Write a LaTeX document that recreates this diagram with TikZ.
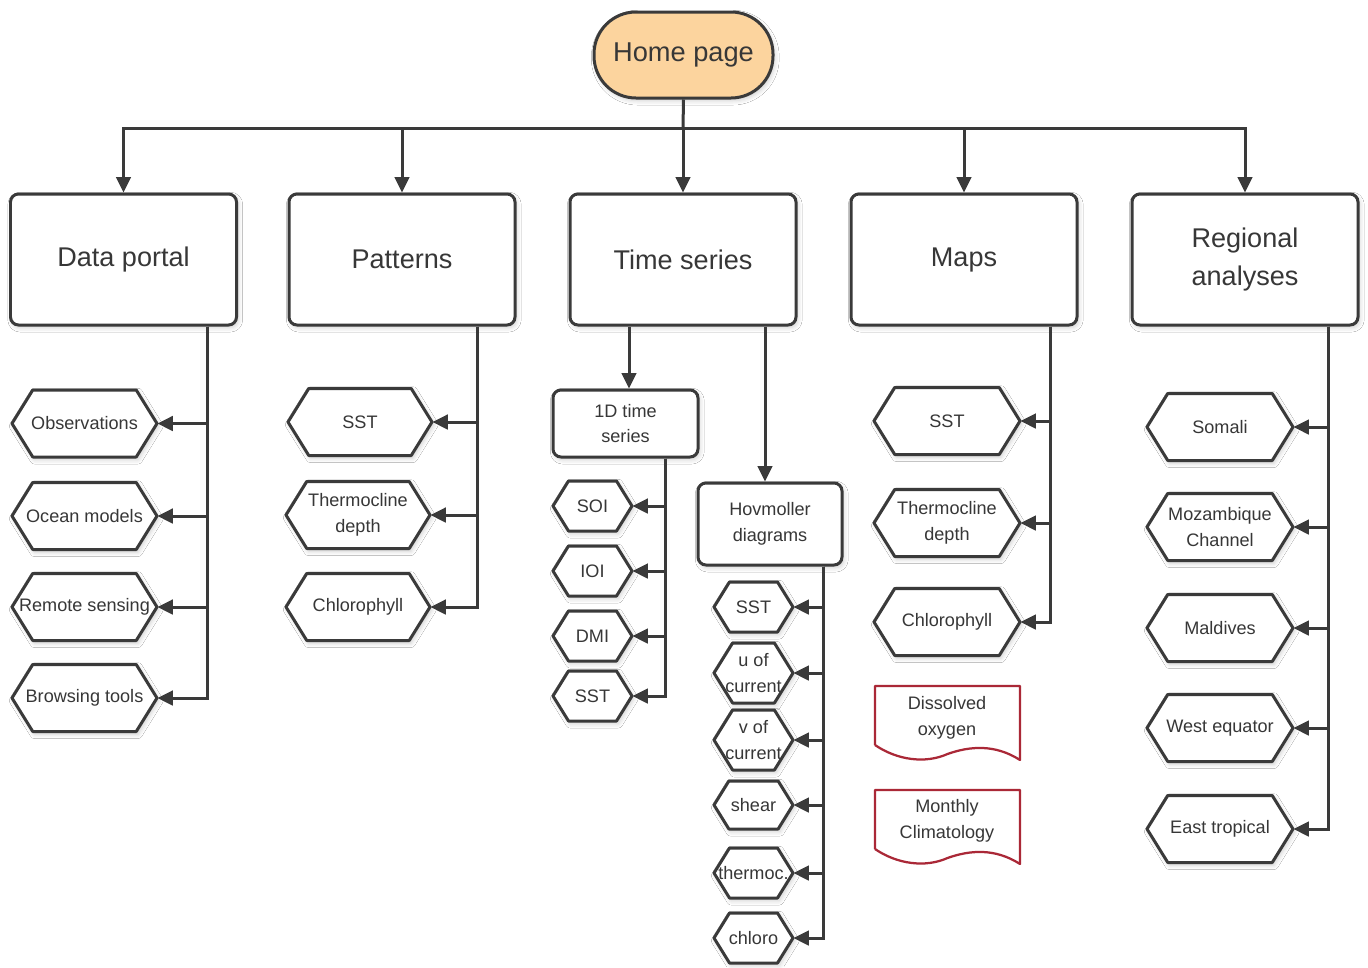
\documentclass[tikz,border=0pt]{standalone}
\usepackage{fontspec}
\setmainfont{Liberation Sans}
\usetikzlibrary{arrows.meta,shadows.blur}
\definecolor{ln}{RGB}{58,58,58}
\definecolor{tx}{RGB}{55,55,55}
\definecolor{peach}{RGB}{252,212,158}
\definecolor{docred}{RGB}{170,40,55}
\def\pxl{0.02cm}
\tikzset{
  shd/.style={blur shadow={shadow xshift=1pt, shadow yshift=-1.5pt, shadow blur radius=2.5pt, shadow opacity=20}},
  conn/.style={draw=ln, line width=0.06cm},
  arr/.style={conn, -{Triangle[length=0.31cm,width=0.29cm]}},
  homebox/.style={draw=ln, line width=0.06cm, fill=peach, rounded corners=0.84cm, minimum width=179*\pxl, minimum height=86*\pxl, font=\fontsize{15.5}{20}\selectfont, text=tx, shd},
  bigbox/.style={draw=ln, line width=0.06cm, fill=white, rounded corners=0.16cm, minimum width=226*\pxl, minimum height=131*\pxl, align=center, font=\fontsize{15.4}{21.5}\selectfont, text=tx, shd},
  subbox/.style={draw=ln, line width=0.06cm, fill=white, rounded corners=0.16cm, align=center, font=\fontsize{10.3}{14.7}\selectfont, text=tx, shd},
  hexnode/.style={inner sep=0pt, align=center, font=\fontsize{10.3}{14.7}\selectfont, text=tx},
  hexline/.style={draw=ln, line width=0.06cm, line join=round, fill=white, shd},
  docline/.style={draw=docred, line width=0.045cm, fill=white, line join=round},
}
% name, cx, cy, w, h, text
\newcommand\hexa[6]{%
  \draw[hexline] ({#2-#4/2},#3) -- ({#2-#4/2+0.31*#5},{#3-#5/2}) -- ({#2+#4/2-0.31*#5},{#3-#5/2}) -- ({#2+#4/2},#3) -- ({#2+#4/2-0.31*#5},{#3+#5/2}) -- ({#2-#4/2+0.31*#5},{#3+#5/2}) -- cycle;
  \node[hexnode, minimum width=#4*\pxl, minimum height=#5*\pxl] (#1) at (#2,#3) {#6};}
% x1, x2, top
\newcommand\docshape[3]{%
  \draw[docline] (#1,{#3+59}) -- (#1,#3) -- (#2,#3) -- (#2,{#3+74})
    .. controls ({#2-25},{#3+58}) and ({#2-50},{#3+60}) .. ({(#1+#2)/2},{#3+68})
    .. controls ({#1+50},{#3+78}) and ({#1+22},{#3+74}) .. (#1,{#3+59});}
\begin{document}
\begin{tikzpicture}[x=0.02cm,y=-0.02cm]
\useasboundingbox (0,0) rectangle (1368,967);
\fill[white] (0,0) rectangle (1368,967);

% top level
\node[homebox] (home) at (683.5,55) {Home page};
\node[bigbox] (dp) at (123.5,259.5) {Data portal};
\node[bigbox] (pat) at (402,259.5) {Patterns};
\node[bigbox] (ts) at (683,259.5) {Time series};
\node[bigbox] (maps) at (964,259.5) {Maps};
\node[bigbox] (reg) at (1245,259.5) {Regional\\analyses};

\coordinate (bus) at (683,128);
\draw[conn] (home.south) -- (bus);
\foreach \n in {dp,pat,ts,maps,reg} \draw[arr] (bus) -| (\n.north);

% Data portal
\hexa{obs}{84.5}{423.5}{145}{67}{Observations}
\hexa{ocm}{84.5}{516}{145}{67}{Ocean models}
\hexa{rs}{84.5}{607}{145}{67}{Remote sensing}
\hexa{bt}{84.5}{698}{145}{67}{Browsing tools}
\coordinate (dpx) at (207,0);
\foreach \n in {obs,ocm,rs,bt} \draw[arr] (dp.south -| dpx) |- (\n.east);

% Patterns
\hexa{psst}{360}{422}{144}{67}{SST}
\hexa{pthd}{358}{515}{144}{67}{Thermocline\\depth}
\hexa{pchl}{358}{607}{144}{67}{Chlorophyll}
\coordinate (patx) at (477,0);
\foreach \n in {psst,pthd,pchl} \draw[arr] (pat.south -| patx) |- (\n.east);

% Time series
\node[subbox, minimum width=145*\pxl, minimum height=67*\pxl] (ts1) at (625.5,423.5) {1D time\\series};
\node[subbox, minimum width=144*\pxl, minimum height=82*\pxl] (hov) at (770,524) {Hovmoller\\diagrams};
\coordinate (tsa) at (629,0);
\coordinate (tsb) at (765,0);
\draw[arr] (ts.south -| tsa) -- (ts1.north -| tsa);
\draw[arr] (ts.south -| tsb) -- (hov.north -| tsb);

\hexa{soi}{592.5}{506}{79}{50}{SOI}
\hexa{ioi}{592.5}{571}{79}{50}{IOI}
\hexa{dmi}{592.5}{636}{79}{50}{DMI}
\hexa{tsst}{592.5}{696}{79}{50}{SST}
\coordinate (ts1x) at (665,0);
\foreach \n in {soi,ioi,dmi,tsst} \draw[arr] (ts1.south -| ts1x) |- (\n.east);

\hexa{hsst}{753.5}{607}{79}{50}{SST}
\hexa{hu}{753.5}{673}{79}{60}{u of\\current}
\hexa{hv}{753.5}{740}{79}{60}{v of\\current}
\hexa{hsh}{753.5}{805}{79}{48}{shear}
\hexa{hth}{753.5}{873}{79}{50}{thermoc.}
\hexa{hch}{753.5}{938}{79}{50}{chloro}
\coordinate (hovx) at (823,0);
\foreach \n in {hsst,hu,hv,hsh,hth,hch} \draw[arr] (hov.south -| hovx) |- (\n.east);

% Maps
\hexa{msst}{947}{421}{146}{67}{SST}
\hexa{mthd}{947}{523}{146}{67}{Thermocline\\depth}
\hexa{mchl}{947}{622}{146}{67}{Chlorophyll}
\coordinate (mapx) at (1050,0);
\foreach \n in {msst,mthd,mchl} \draw[arr] (maps.south -| mapx) |- (\n.east);

\docshape{875}{1020}{686}
\node[hexnode] (dox) at (947,718) {Dissolved\\oxygen};
\docshape{875}{1020}{790}
\node[hexnode] (mcl) at (947,821) {Monthly\\Climatology};

% Regional analyses
\hexa{som}{1220}{427}{146}{67}{Somali}
\hexa{moz}{1220}{527}{146}{67}{Mozambique\\Channel}
\hexa{mal}{1220}{628}{146}{67}{Maldives}
\hexa{weq}{1220}{728}{146}{67}{West equator}
\hexa{etr}{1220}{829}{146}{67}{East tropical}
\coordinate (regx) at (1328,0);
\foreach \n in {som,moz,mal,weq,etr} \draw[arr] (reg.south -| regx) |- (\n.east);
\end{tikzpicture}
\end{document}
